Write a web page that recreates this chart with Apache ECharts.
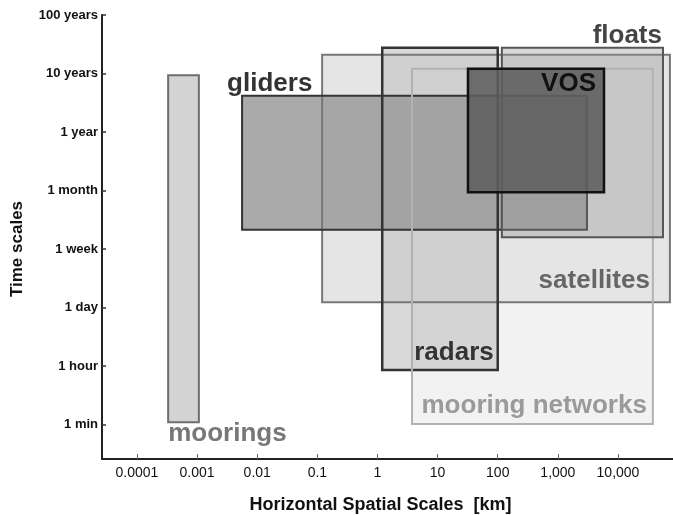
<!DOCTYPE html>
<html><head><meta charset="utf-8">
<script src="https://cdn.jsdelivr.net/npm/echarts@6/dist/echarts.min.js"></script>
<style>html,body{margin:0;padding:0;background:#fff}#c{width:673px;height:515px}</style>
</head><body><div id="c"></div>
<script>
// Time axis: equally spaced categories (index positions 0..7)
const timeLabels = ['1 min', '1 hour', '1 day', '1 week', '1 month', '1 year', '10 years', '100 years'];
const timeTicks = [0, 1, 2, 3, 4, 5, 6, 7];
// Horizontal spatial scale ticks [km]
const spaceTicks = [0.0001, 0.001, 0.01, 0.1, 1, 10, 100, 1000, 10000];
const spaceTickLabels = ['0.0001', '0.001', '0.01', '0.1', '1', '10', '100', '1,000', '10,000'];

// Platforms
const platforms = ['mooring networks', 'satellites', 'moorings', 'radars', 'gliders', 'floats', 'VOS'];
const spaceMin = [3.75, 0.12, 0.00033, 1.2, 0.0056, 117, 32];        // km
const spaceMax = [38000, 73000, 0.00107, 100, 3050, 56000, 5850];    // km
const timeMin = [0.01, 2.09, 0.04, 0.93, 3.33, 3.2, 3.97];           // position on time axis
const timeMax = [6.08, 6.32, 5.97, 6.44, 5.62, 6.44, 6.08];

// Visual styles (not data): fill/stroke colours and drawing order
const styles = {
  'mooring networks': {fill: 'rgb(242,242,242)', stroke: '#b2b2b2', lw: 2, fz: 1, sz: 10, color: '#9a9a9a', anchor: 'br', dx: -6, dy: -18, align: 'right'},
  'satellites':       {fill: 'rgb(229,229,229)', stroke: '#777', lw: 2, fz: 2, sz: 6, color: '#666', anchor: 'br', dx: -20, dy: -21, align: 'right'},
  'moorings':         {fill: 'rgb(211,211,211)', stroke: '#6e6e6e', lw: 2, fz: 3, sz: 3.5, color: '#777', anchor: 'bl', dx: 0, dy: 12, align: 'left'},
  'radars':           {fill: 'rgba(198,198,198,0.69)', stroke: '#333', lw: 2.5, fz: 4, sz: 8, color: '#333', anchor: 'br', dx: -4, dy: -17, align: 'right'},
  'gliders':          {fill: 'rgba(155,155,155,0.85)', stroke: '#333', lw: 2, fz: 5, sz: 7, color: '#333', anchor: 'tl', dx: -15, dy: -12, align: 'left'},
  'floats':           {fill: 'rgba(150,150,150,0.37)', stroke: '#555', lw: 2, fz: 9, sz: 11, color: '#444', anchor: 'tr', dx: -1, dy: -12, align: 'right'},
  'VOS':              {fill: 'rgba(93,93,93,0.88)', stroke: '#111', lw: 2.5, fz: 12, sz: 13, color: '#111', anchor: 'tr', dx: -8, dy: 15, align: 'right'}
};

const data = platforms.map((n, i) => [spaceMin[i], spaceMax[i], timeMin[i], timeMax[i]]);

const chart = echarts.init(document.getElementById('c'), null, {renderer: 'canvas'});
chart.setOption({
  animation: false,
  backgroundColor: '#fff',
  grid: {left: 102, right: 0, top: 15, bottom: 56, containLabel: false, outerBoundsMode: 'none'},
  xAxis: {
    type: 'log', logBase: 10,
    min: 2.62e-5, max: 82200,
    name: 'Horizontal Spatial Scales  [km]',
    nameLocation: 'middle', nameGap: 37,
    nameTextStyle: {fontFamily: 'Liberation Sans', fontWeight: 'bold', fontSize: 18, color: '#111', padding: [0, 14, 0, 0]},
    axisLine: {onZero: false, lineStyle: {color: '#222', width: 2}},
    axisTick: {inside: true, length: 5, customValues: spaceTicks, lineStyle: {color: '#666', width: 1}},
    axisLabel: {
      customValues: spaceTicks, margin: 7,
      fontFamily: 'Liberation Sans', fontSize: 14, color: '#111',
      formatter: v => spaceTickLabels[Math.round(Math.log10(v)) + 4]
    },
    splitLine: {show: false}, minorTick: {show: false}
  },
  yAxis: {
    type: 'value', min: -0.59, max: 7,
    name: 'Time scales',
    nameLocation: 'middle', nameGap: 76,
    nameTextStyle: {fontFamily: 'Liberation Sans', fontWeight: 'bold', fontSize: 17, color: '#111', padding: [0, 24, 0, 0]},
    axisLine: {show: true, onZero: false, lineStyle: {color: '#222', width: 2}},
    axisTick: {show: true, inside: true, length: 4, customValues: timeTicks, lineStyle: {color: '#333', width: 1.5}},
    axisLabel: {
      customValues: timeTicks, margin: 4,
      fontFamily: 'Liberation Sans', fontWeight: 'bold', fontSize: 13, color: '#111',
      formatter: v => timeLabels[Math.round(v)]
    },
    splitLine: {show: false}
  },
  series: [{
    type: 'custom',
    clip: false,
    encode: {x: [0, 1], y: [2, 3]},
    data: data,
    renderItem: function (params, api) {
      const tl = api.coord([api.value(0), api.value(3)]);
      const br = api.coord([api.value(1), api.value(2)]);
      const name = platforms[params.dataIndex];
      const s = styles[name];
      const x = tl[0], y = tl[1], w = br[0] - tl[0], h = br[1] - tl[1];
      const ax = (s.anchor === 'tr' || s.anchor === 'br') ? x + w : x;
      const ay = (s.anchor === 'bl' || s.anchor === 'br') ? y + h : y;
      return {
        type: 'group',
        children: [
          {type: 'rect', z2: s.fz, shape: {x: x, y: y, width: w, height: h},
           style: {fill: s.fill, stroke: null}},
          {type: 'rect', z2: s.sz, shape: {x: x, y: y, width: w, height: h},
           style: {fill: null, stroke: s.stroke, lineWidth: s.lw}},
          {type: 'text', x: ax + s.dx, y: ay + s.dy, z2: 100,
           style: {text: name, fill: s.color, font: 'bold 26px "Liberation Sans"', align: s.align, verticalAlign: 'middle'}}
        ]
      };
    }
  }]
});
</script></body></html>
